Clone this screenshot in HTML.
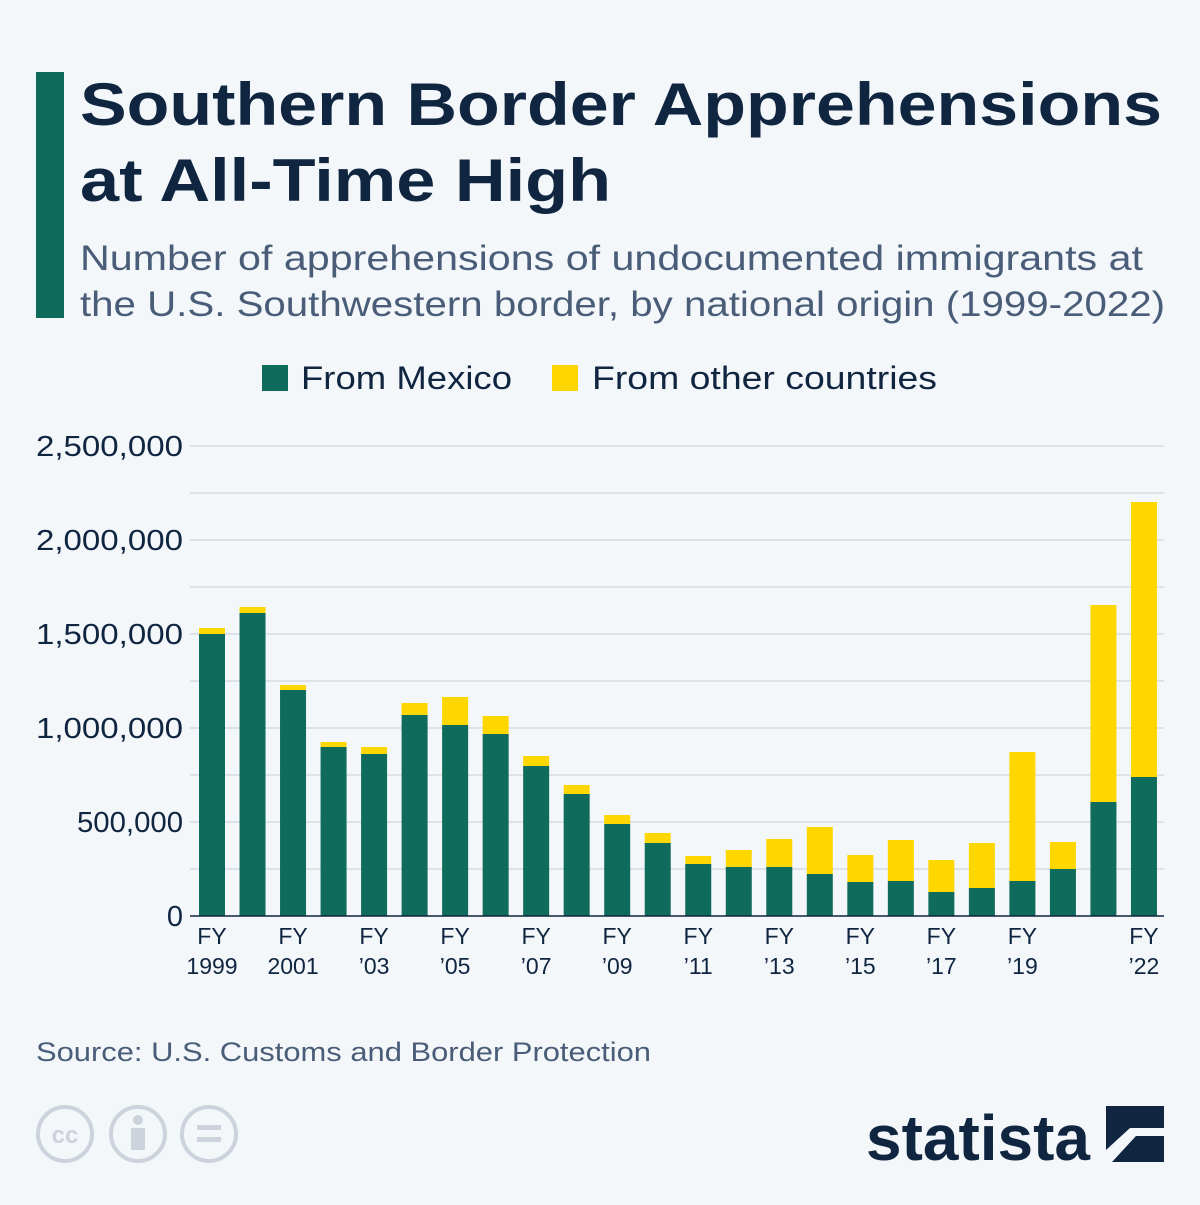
<!DOCTYPE html>
<html><head><meta charset="utf-8"><style>
body{margin:0;width:1200px;height:1200px;background:#f4f7fa;font-family:"Liberation Sans",sans-serif;overflow:hidden}
</style></head><body>
<svg width="1200" height="1200" xmlns="http://www.w3.org/2000/svg" font-family="Liberation Sans, sans-serif">
<rect width="1200" height="1200" fill="#f4f7fa"/>
<rect x="36" y="72" width="28" height="246" fill="#0f6b5c"/>
<text x="80" y="125" font-size="60" font-weight="bold" fill="#0f2540" textLength="1082" lengthAdjust="spacingAndGlyphs">Southern Border Apprehensions</text>
<text x="80" y="201" font-size="60" font-weight="bold" fill="#0f2540" textLength="531" lengthAdjust="spacingAndGlyphs">at All-Time High</text>
<text x="80" y="270" font-size="35" fill="#4a5d78" textLength="1063" lengthAdjust="spacingAndGlyphs">Number of apprehensions of undocumented immigrants at</text>
<text x="80" y="316" font-size="35" fill="#4a5d78" textLength="1085" lengthAdjust="spacingAndGlyphs">the U.S. Southwestern border, by national origin (1999-2022)</text>
<rect x="262" y="365" width="26" height="26" fill="#0f6b5c"/>
<text x="301" y="389" font-size="32" fill="#0f2540" textLength="211" lengthAdjust="spacingAndGlyphs">From Mexico</text>
<rect x="552" y="365" width="26" height="26" fill="#ffd700"/>
<text x="592" y="389" font-size="32" fill="#0f2540" textLength="345" lengthAdjust="spacingAndGlyphs">From other countries</text>
<g stroke="#c5ccd6" stroke-width="1">
<line x1="190" x2="1164" y1="446" y2="446"/><line x1="190" x2="1164" y1="493" y2="493"/><line x1="190" x2="1164" y1="540" y2="540"/><line x1="190" x2="1164" y1="587" y2="587"/><line x1="190" x2="1164" y1="634" y2="634"/><line x1="190" x2="1164" y1="681" y2="681"/><line x1="190" x2="1164" y1="728" y2="728"/><line x1="190" x2="1164" y1="775" y2="775"/><line x1="190" x2="1164" y1="822" y2="822"/><line x1="190" x2="1164" y1="869" y2="869"/>
</g>
<g font-size="29" fill="#0f2540" text-anchor="end">
<text x="183" y="456" textLength="147" lengthAdjust="spacingAndGlyphs">2,500,000</text><text x="183" y="550" textLength="147" lengthAdjust="spacingAndGlyphs">2,000,000</text><text x="183" y="644" textLength="147" lengthAdjust="spacingAndGlyphs">1,500,000</text><text x="183" y="738" textLength="147" lengthAdjust="spacingAndGlyphs">1,000,000</text><text x="183" y="832" textLength="106" lengthAdjust="spacingAndGlyphs">500,000</text><text x="183" y="926">0</text>
</g>
<g id="bars"></g>
<line x1="190" x2="1164" y1="916" y2="916" stroke="#0f2540" stroke-width="1.5"/>
<g font-size="23" fill="#0f2540" text-anchor="middle" id="xl"></g>
<text x="36" y="1061" font-size="27" fill="#4a5d78" textLength="615" lengthAdjust="spacingAndGlyphs">Source: U.S. Customs and Border Protection</text>
<g fill="none" stroke="#ccd3dc" stroke-width="4">
<circle cx="65" cy="1134" r="27"/><circle cx="138" cy="1134" r="27"/><circle cx="209" cy="1134" r="27"/>
</g>
<text x="65" y="1143" font-size="24" font-weight="bold" fill="#ccd3dc" text-anchor="middle">cc</text>
<circle cx="138" cy="1120" r="5" fill="#ccd3dc"/><rect x="131" y="1128" width="14" height="22" fill="#ccd3dc"/>
<rect x="197" y="1125" width="24" height="5" fill="#ccd3dc"/><rect x="197" y="1137" width="24" height="5" fill="#ccd3dc"/>
<text x="1090" y="1160" font-size="64" font-weight="bold" fill="#0f2540" text-anchor="end" textLength="224" lengthAdjust="spacingAndGlyphs">statista</text>
<rect x="1106" y="1106" width="58" height="56" fill="#0f2540"/>
<path d="M1106 1150 L1130 1128 L1164 1128 L1164 1136 L1136 1136 L1112 1162 L1106 1162Z" fill="#f4f7fa"/>
</svg>
<script>
var d=[[634,628],[613,607],[690,685],[747,742],[754,747],[715,703],[725,697],[734,716],[766,756],[794,785],[824,815],[843,833],[864,856],[867,850],[867,839],[874,827],[882,855],[881,840],[892,860],[888,843],[881,752],[869,842],[802,605],[777,502]];
var ns="http://www.w3.org/2000/svg";
var g=document.getElementById("bars");
d.forEach(function(b,i){var x=199+i*40.52;
var y=document.createElementNS(ns,"rect");y.setAttribute("x",x);y.setAttribute("y",b[1]);y.setAttribute("width",26);y.setAttribute("height",b[0]-b[1]);y.setAttribute("fill","#ffd700");g.appendChild(y);
var m=document.createElementNS(ns,"rect");m.setAttribute("x",x);m.setAttribute("y",b[0]);m.setAttribute("width",26);m.setAttribute("height",916-b[0]);m.setAttribute("fill","#0f6b5c");g.appendChild(m);});
var L={0:"1999",2:"2001",4:"’03",6:"’05",8:"’07",10:"’09",12:"’11",14:"’13",16:"’15",18:"’17",20:"’19",23:"’22"};
var xl=document.getElementById("xl");
for(var k in L){var cx=212+k*40.52;
var t=document.createElementNS(ns,"text");t.setAttribute("x",cx);t.setAttribute("y",944);t.textContent="FY";xl.appendChild(t);
var t2=document.createElementNS(ns,"text");t2.setAttribute("x",cx);t2.setAttribute("y",974);t2.textContent=L[k];xl.appendChild(t2);}
</script>
</body></html>
